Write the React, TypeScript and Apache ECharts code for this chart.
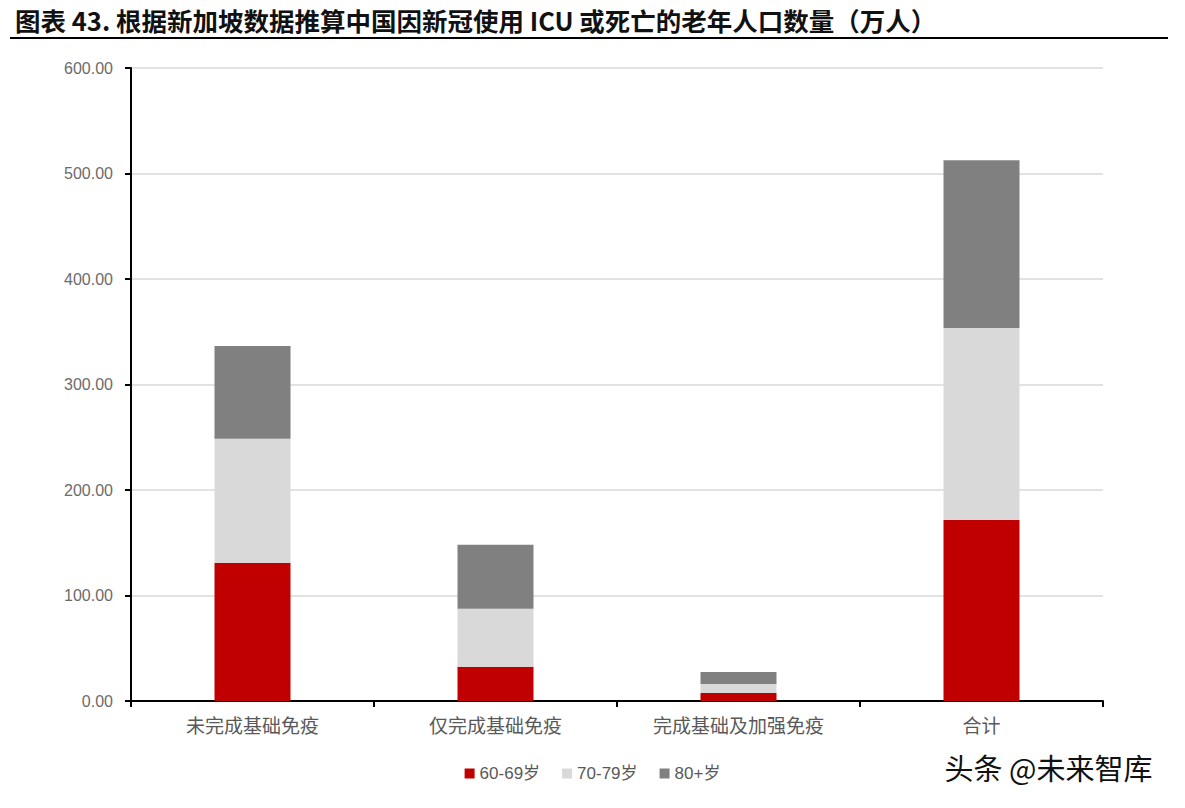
import React, { useEffect, useRef } from "react";
import * as echarts from "echarts";

const categories = ["未完成基础免疫", "仅完成基础免疫", "完成基础及加强免疫", "合计"];
const seriesNames = ["60-69岁", "70-79岁", "80+岁"];
const age60 = [131.0, 32.5, 7.6, 171.5];
const age70 = [117.5, 55.0, 8.4, 182.0];
const age80 = [88.0, 60.5, 11.5, 159.0];
const colors = ["#C00000", "#D9D9D9", "#808080"];
const yTicks = { min: 0, max: 600, interval: 100 };
const titleText = "图表 43. 根据新加坡数据推算中国因新冠使用 ICU 或死亡的老年人口数量（万人）";
const watermark = "头条 @未来智库";

export default function App() {
  const ref = useRef<HTMLDivElement>(null);
  useEffect(() => {
    if (!ref.current) return;
    const chart = echarts.init(ref.current, undefined, { renderer: "svg" });
    const values = [age60, age70, age80];
    chart.setOption({
      animation: false,
      backgroundColor: "#ffffff",
      title: {
        text: titleText,
        left: 10,
        top: 2,
        textStyle: {
          fontFamily: "Noto Sans CJK SC",
          fontWeight: "bold",
          fontSize: 25.5,
          color: "#111",
        },
      },
      graphic: [
        {
          type: "line",
          shape: { x1: 10, y1: 38, x2: 1168, y2: 38 },
          style: { stroke: "#000", lineWidth: 2 },
        },
        {
          type: "text",
          left: 944,
          top: 752,
          style: {
            text: watermark,
            font: "29px 'Noto Sans CJK SC'",
            fill: "#111",
            stroke: "#fff",
            lineWidth: 1,
          },
        },
      ],
      grid: { left: 131, right: 82, top: 68, bottom: 107, containLabel: false },
      legend: {
        data: seriesNames,
        top: 760,
        left: "center",
        itemWidth: 10,
        itemHeight: 10,
        itemGap: 22,
        icon: "rect",
        textStyle: { color: "#595959", fontSize: 17, fontFamily: "Liberation Sans, Noto Sans CJK SC" },
      },
      xAxis: {
        type: "category",
        data: categories,
        axisLine: { lineStyle: { color: "#000", width: 2 } },
        axisTick: { show: true, length: 6, lineStyle: { color: "#000", width: 2 } },
        axisLabel: {
          color: "#595959",
          fontSize: 19,
          margin: 14,
          fontFamily: "Noto Sans CJK SC",
        },
      },
      yAxis: {
        type: "value",
        min: yTicks.min,
        max: yTicks.max,
        interval: yTicks.interval,
        axisLine: { show: true, lineStyle: { color: "#000", width: 2 } },
        axisTick: { show: true, length: 6, lineStyle: { color: "#000", width: 2 } },
        axisLabel: {
          color: "#6b6b6b",
          fontSize: 16,
          margin: 18,
          fontFamily: "Liberation Sans",
          formatter: (v: number) => v.toFixed(2),
        },
        splitLine: { lineStyle: { color: "#D9D9D9", width: 1.5 } },
      },
      series: seriesNames.map((name, i) => ({
        name,
        type: "bar",
        stack: "total",
        data: values[i],
        barWidth: 76,
        itemStyle: { color: colors[i] },
      })),
    });
    return () => chart.dispose();
  }, []);
  return (
    <div
      ref={ref}
      style={{ position: "absolute", left: 0, top: 0, width: 1185, height: 808 }}
    />
  );
}
